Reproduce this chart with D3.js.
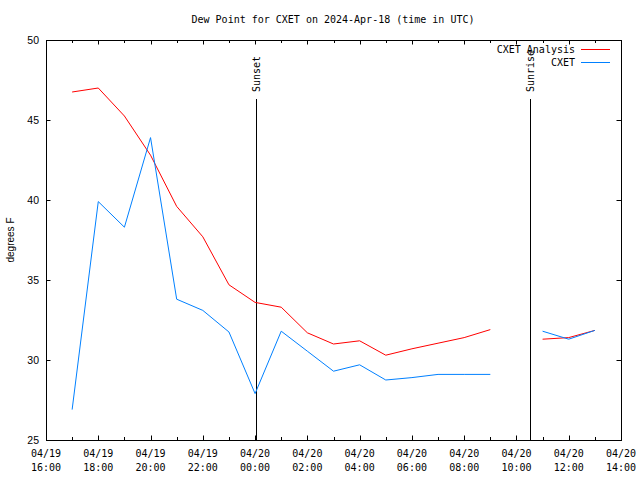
<!DOCTYPE html>
<html><head><meta charset="utf-8">
<script src="https://cdn.jsdelivr.net/npm/d3@7"></script>
<style>body{margin:0;background:#fff}svg{display:block}</style>
</head><body>
<svg id="c" width="640" height="480"></svg>
<script>
const hours = ["2024-04-19T17:00Z","2024-04-19T18:00Z","2024-04-19T19:00Z","2024-04-19T20:00Z","2024-04-19T21:00Z","2024-04-19T22:00Z","2024-04-19T23:00Z","2024-04-20T00:00Z","2024-04-20T01:00Z","2024-04-20T02:00Z","2024-04-20T03:00Z","2024-04-20T04:00Z","2024-04-20T05:00Z","2024-04-20T06:00Z","2024-04-20T07:00Z","2024-04-20T08:00Z","2024-04-20T09:00Z","2024-04-20T10:00Z","2024-04-20T11:00Z","2024-04-20T12:00Z","2024-04-20T13:00Z"];
const analysis = [46.75,47.0,45.25,42.8,39.6,37.7,34.7,33.6,33.3,31.7,31.0,31.2,30.3,30.7,31.05,31.4,31.9,null,31.3,31.4,31.85];
const observed = [26.9,39.9,38.3,43.9,33.8,33.1,31.75,27.9,31.8,30.55,29.3,29.7,28.75,28.9,29.1,29.1,29.1,null,31.8,31.3,31.85];
const seriesNames = ["CXET Analysis","CXET"];
const seriesColors = ["#ff0000","#0080ff"];
const yTicks = [25,30,35,40,45,50];
const xDomain = ["2024-04-19T16:00Z","2024-04-20T14:00Z"];
const events = [{name:"Sunset", time:"2024-04-20T00:03Z"},{name:"Sunrise", time:"2024-04-20T10:31Z"}];
const title = "Dew Point for CXET on 2024-Apr-18 (time in UTC)";
const yLabel = "degrees F";

const L=46,R=621,T=40,B=440;
const svg=d3.select("#c");
const mono="'DejaVu Sans Mono', monospace", sans="'Liberation Sans', Arial, sans-serif";
const x=d3.scaleUtc().domain(xDomain.map(d=>new Date(d))).range([L,R]);
const y=d3.scaleLinear().domain([25,50]).range([B,T]);

// frame
svg.append("rect").attr("x",L+0.5).attr("y",T+0.5).attr("width",R-L).attr("height",B-T)
  .attr("fill","none").attr("stroke","#000").attr("stroke-width",1);

const minor=x.ticks(d3.utcHour.every(1));
const major=x.ticks(d3.utcHour.every(2));
const tg=svg.append("g").attr("stroke","#000").attr("stroke-width",1);
minor.forEach(d=>{
  const isMaj=major.some(m=>+m===+d);
  const len=isMaj?4.5:3;
  const xx=Math.round(x(d))+0.5;
  tg.append("line").attr("x1",xx).attr("x2",xx).attr("y1",B).attr("y2",B-len);
  tg.append("line").attr("x1",xx).attr("x2",xx).attr("y1",T).attr("y2",T+len);
});
yTicks.forEach(v=>{
  const yy=Math.round(y(v))+0.5;
  tg.append("line").attr("x1",L).attr("x2",L+4.5).attr("y1",yy).attr("y2",yy);
  tg.append("line").attr("x1",R).attr("x2",R-4.5).attr("y1",yy).attr("y2",yy);
});
const fmtD=d3.utcFormat("%m/%d"), fmtH=d3.utcFormat("%H:%M");
major.forEach(d=>{
  const t=svg.append("text").attr("x",x(d)).attr("text-anchor","middle")
    .attr("font-family",mono).attr("font-size",10).attr("fill","#000");
  t.append("tspan").attr("x",x(d)).attr("y",457).text(fmtD(d));
  t.append("tspan").attr("x",x(d)).attr("y",471).text(fmtH(d));
});
yTicks.forEach(v=>{
  svg.append("text").attr("x",39).attr("y",y(v)+4).attr("text-anchor","end")
    .attr("font-family",sans).attr("font-size",10.5).attr("fill","#000").text(v);
});
svg.append("text").attr("transform","translate(14,240) rotate(-90)").attr("text-anchor","middle")
  .attr("font-family",sans).attr("font-size",10).attr("fill","#000").text(yLabel);
svg.append("text").attr("x",333).attr("y",23).attr("text-anchor","middle")
  .attr("font-family",mono).attr("font-size",10).attr("fill","#000").text(title);

// events
events.forEach(e=>{
  const xx=Math.round(x(new Date(e.time)))+0.5;
  svg.append("line").attr("x1",xx).attr("x2",xx).attr("y1",99).attr("y2",B).attr("stroke","#000");
  svg.append("text").attr("transform",`translate(${xx+3.5},92) rotate(-90)`).attr("text-anchor","start")
    .attr("font-family",mono).attr("font-size",10).attr("fill","#000").text(e.name);
});

// series
const dates=hours.map(h=>new Date(h));
[analysis,observed].forEach((vals,i)=>{
  const line=d3.line().defined(d=>d[1]!=null).x(d=>x(d[0])).y(d=>y(d[1]));
  svg.append("path").datum(dates.map((d,j)=>[d,vals[j]])).attr("d",line)
    .attr("fill","none").attr("stroke",seriesColors[i]).attr("stroke-width",1);
});

// legend
seriesNames.forEach((n,i)=>{
  const yy=49.5+i*13;
  svg.append("text").attr("x",575).attr("y",yy+3.5).attr("text-anchor","end")
    .attr("font-family",mono).attr("font-size",10).attr("fill","#000").text(n);
  svg.append("line").attr("x1",581).attr("x2",610).attr("y1",yy).attr("y2",yy)
    .attr("stroke",seriesColors[i]).attr("stroke-width",1);
});
</script>
</body></html>
